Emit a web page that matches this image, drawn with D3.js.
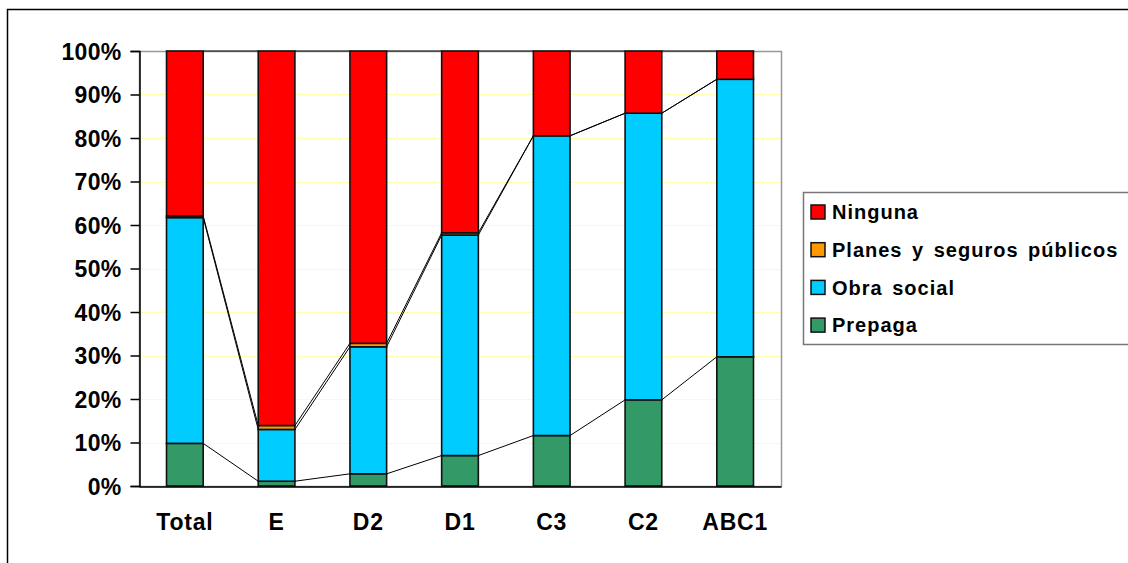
<!DOCTYPE html>
<html>
<head>
<meta charset="utf-8">
<script src="https://cdn.jsdelivr.net/npm/d3@7"></script>
<style>
  body { margin: 0; background: #fff; }
  text { font-family: "Liberation Sans", Arial, sans-serif; font-weight: bold; fill: #000; }
</style>
</head>
<body>
<script>
// categories and stacked series (percent)
const categories = ["Total", "E", "D2", "D1", "C3", "C2", "ABC1"];
const prepaga    = [9.8, 1.1, 2.8, 7.0, 11.6, 19.8, 29.7];
const obraSocial = [51.9, 11.9, 29.2, 50.7, 68.9, 65.9, 63.8];
const planes     = [0.4, 0.9, 0.8, 0.5, 0, 0, 0];
const ninguna    = [37.9, 86.1, 67.2, 41.8, 19.5, 14.3, 6.5];
const yTicks = [0, 10, 20, 30, 40, 50, 60, 70, 80, 90, 100];

const seriesNames = ["Prepaga", "Obra social", "Planes y seguros públicos", "Ninguna"];
const seriesValues = [prepaga, obraSocial, planes, ninguna];
const colors = ["#339966", "#00ccff", "#ff9900", "#ff0000"];

const width = 1128, height = 563;
const plot = { left: 139, right: 781, top: 51, bottom: 486 };

const svg = d3.select("body").append("svg")
    .attr("width", width)
    .attr("height", height);

// outer chart border (runs off right/bottom edge)
svg.append("rect")
    .attr("x", 7.5).attr("y", 9.5)
    .attr("width", 1200).attr("height", 700)
    .attr("fill", "none").attr("stroke", "#000").attr("stroke-width", 1.5);

const x = d3.scaleBand()
    .domain(categories)
    .range([plot.left, plot.right])
    .paddingInner(0.6)
    .paddingOuter(0.3);

const y = d3.scaleLinear()
    .domain([0, 100])
    .range([plot.bottom, plot.top]);

// gridlines
svg.append("g").selectAll("line")
    .data(yTicks.slice(1, -1))
    .enter().append("line")
    .attr("x1", plot.left).attr("x2", plot.right)
    .attr("y1", d => Math.round(y(d)) + 0.5).attr("y2", d => Math.round(y(d)) + 0.5)
    .attr("stroke", "#ffffb0").attr("stroke-width", 1);

// plot area border
svg.append("rect")
    .attr("x", plot.left + 0.5).attr("y", plot.top + 0.5)
    .attr("width", plot.right - plot.left).attr("height", plot.bottom - plot.top)
    .attr("fill", "none").attr("stroke", "#999").attr("stroke-width", 1.5);

// stack data
const stacked = categories.map((c, i) => {
    let acc = 0;
    return seriesValues.map((vals, s) => {
        const y0 = acc;
        acc += vals[i];
        return { cat: c, s: s, y0: y0, y1: acc };
    });
});

// series lines between bars
const lineG = svg.append("g");
for (let s = 0; s < seriesValues.length; s++) {
    for (let i = 0; i < categories.length - 1; i++) {
        const a = stacked[i][s], b = stacked[i + 1][s];
        lineG.append("line")
            .attr("x1", x(a.cat) + x.bandwidth())
            .attr("x2", x(b.cat))
            .attr("y1", y(a.y1))
            .attr("y2", y(b.y1))
            .attr("stroke", "#000").attr("stroke-width", 1);
    }
}

// bars
svg.append("g").selectAll("g")
    .data(stacked)
    .enter().append("g")
    .selectAll("rect")
    .data(d => d.filter(p => p.y1 - p.y0 > 0))
    .enter().append("rect")
    .attr("x", d => x(d.cat))
    .attr("width", x.bandwidth())
    .attr("y", d => y(d.y1))
    .attr("height", d => y(d.y0) - y(d.y1))
    .attr("fill", d => colors[d.s])
    .attr("stroke", "#111").attr("stroke-width", 1.6);

// y axis
const yAxis = d3.axisLeft(y)
    .tickValues(yTicks)
    .tickSize(9)
    .tickPadding(9)
    .tickFormat(d => d + "%");

const yAxisG = svg.append("g")
    .attr("transform", `translate(${plot.left + 0.5},0)`)
    .call(yAxis);
yAxisG.select(".domain").attr("stroke", "#000").attr("stroke-width", 1.5);
yAxisG.selectAll(".tick line").attr("stroke", "#000").attr("stroke-width", 1.5);
yAxisG.selectAll(".tick text")
    .style("font-family", "'Liberation Sans', Arial, sans-serif")
    .style("font-weight", "bold")
    .style("font-size", "23px")
    .style("letter-spacing", "0.3px")
    .attr("dy", "0.36em");

// x axis
const xAxis = d3.axisBottom(x).tickSize(0).tickPadding(27);
const xAxisG = svg.append("g")
    .attr("transform", `translate(0,${plot.bottom + 0.5})`)
    .call(xAxis);
xAxisG.select(".domain").attr("stroke", "#000").attr("stroke-width", 1.5);
xAxisG.selectAll(".tick text")
    .style("font-family", "'Liberation Sans', Arial, sans-serif")
    .style("font-weight", "bold")
    .style("font-size", "23px")
    .style("letter-spacing", "0.8px");

// legend
const legend = svg.append("g");
legend.append("rect")
    .attr("x", 803.5).attr("y", 192.5)
    .attr("width", 400).attr("height", 152)
    .attr("fill", "#fff").attr("stroke", "#777").attr("stroke-width", 1.5);

const legendOrder = [3, 2, 1, 0];
const item = legend.selectAll(".item")
    .data(legendOrder)
    .enter().append("g")
    .attr("class", "item")
    .attr("transform", (d, i) => `translate(811, ${212 + i * 37.7})`);

item.append("rect")
    .attr("x", 0).attr("y", -7)
    .attr("width", 14).attr("height", 14)
    .attr("fill", d => colors[d])
    .attr("stroke", "#111").attr("stroke-width", 1.5);

item.append("text")
    .attr("x", 21)
    .attr("y", 0)
    .attr("dy", "0.36em")
    .style("font-size", "20px")
    .style("letter-spacing", "1px")
    .style("word-spacing", "3px")
    .text(d => seriesNames[d]);
</script>
</body>
</html>
